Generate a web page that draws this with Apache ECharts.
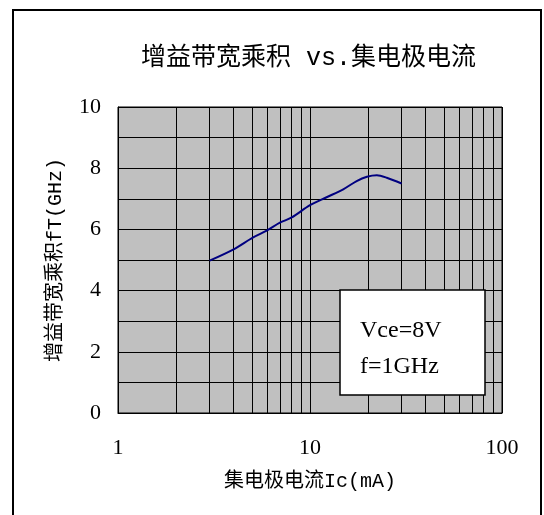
<!DOCTYPE html>
<html>
<head>
<meta charset="utf-8">
<script src="https://cdn.jsdelivr.net/npm/echarts@6/dist/echarts.min.js"></script>
<style>html,body{margin:0;padding:0;background:#fff;}#c{width:544px;height:515px;}</style>
</head>
<body>
<div id="c"></div>
<script>
var currentMA = [3.0, 4.0, 5.06, 5.95, 6.97, 8.03, 10, 12.2, 14.9, 17.5, 19.8, 22.3, 25.1, 30];
var ftGHz = [4.98, 5.35, 5.74, 5.96, 6.22, 6.39, 6.79, 7.05, 7.31, 7.58, 7.72, 7.77, 7.69, 7.50];
var minorX = [2, 3, 4, 5, 6, 7, 8, 9, 20, 30, 40, 50, 60, 70, 80, 90];
var titleText = '增益带宽乘积 vs.集电极电流';
var xName = '集电极电流Ic(mA)';
var yName = '增益带宽乘积fT(GHz)';
var noteLines = ['Vce=8V', 'f=1GHz'];

var chart = echarts.init(document.getElementById('c'));
var mixFont = '"Liberation Mono", "Noto Sans CJK SC", monospace';
var serif = '"Liberation Serif", "Times New Roman", serif';

chart.setOption({
  backgroundColor: '#fff',
  animation: false,
  title: {
    text: titleText,
    left: 136,
    top: 41,
    textStyle: { fontFamily: mixFont, fontSize: 25, fontWeight: 'normal', color: '#000' }
  },
  grid: {
    left: 118, right: 42, top: 107, bottom: 102,
    show: true, backgroundColor: '#c0c0c0', borderColor: '#000', borderWidth: 1,
    containLabel: false
  },
  xAxis: {
    type: 'log', logBase: 10, min: 1, max: 100,
    name: xName, nameLocation: 'middle', nameGap: 59,
    nameTextStyle: { fontFamily: mixFont, fontSize: 20, color: '#000' },
    axisLine: { show: true, lineStyle: { color: '#000' } },
    axisTick: { show: false },
    axisLabel: { fontFamily: serif, fontSize: 22, color: '#000', margin: 24 },
    splitLine: { show: true, lineStyle: { color: '#000', width: 1 } }
  },
  yAxis: {
    type: 'value', min: 0, max: 10, interval: 2,
    name: yName, nameLocation: 'middle', nameGap: 52,
    nameTextStyle: { fontFamily: mixFont, fontSize: 20, color: '#000' },
    axisLine: { show: true, lineStyle: { color: '#000' } },
    axisTick: { show: false },
    minorTick: { show: false, splitNumber: 2 },
    minorSplitLine: { show: true, lineStyle: { color: '#000', width: 1 } },
    axisLabel: { fontFamily: serif, fontSize: 22, color: '#000', margin: 17 },
    splitLine: { show: true, lineStyle: { color: '#000', width: 1 } }
  },
  series: [{
    type: 'line',
    data: currentMA.map(function (x, i) { return [x, ftGHz[i]]; }),
    showSymbol: false,
    smooth: 0.3,
    lineStyle: { color: '#000080', width: 2 },
    z: 5,
    markLine: {
      silent: true,
      symbol: 'none',
      label: { show: false },
      lineStyle: { color: '#000', width: 1, type: 'solid' },
      data: minorX.map(function (v) { return { xAxis: v }; }),
      z: 1
    }
  }],
  graphic: [
    {
      type: 'rect', z: 0, silent: true,
      shape: { x: 13, y: 10, width: 528, height: 520 },
      style: { fill: 'none', stroke: '#000', lineWidth: 2 }
    },
    {
      type: 'rect', z: 100, silent: true,
      shape: { x: 340, y: 290, width: 145, height: 105 },
      style: { fill: '#fff', stroke: '#000', lineWidth: 1.5 }
    },
    {
      type: 'text', z: 101, silent: true, x: 360, y: 331,
      style: { text: noteLines[0], font: '24px ' + serif, fill: '#000', verticalAlign: 'middle' }
    },
    {
      type: 'text', z: 101, silent: true, x: 360, y: 367,
      style: { text: noteLines[1], font: '24px ' + serif, fill: '#000', verticalAlign: 'middle' }
    }
  ]
});
</script>
</body>
</html>
